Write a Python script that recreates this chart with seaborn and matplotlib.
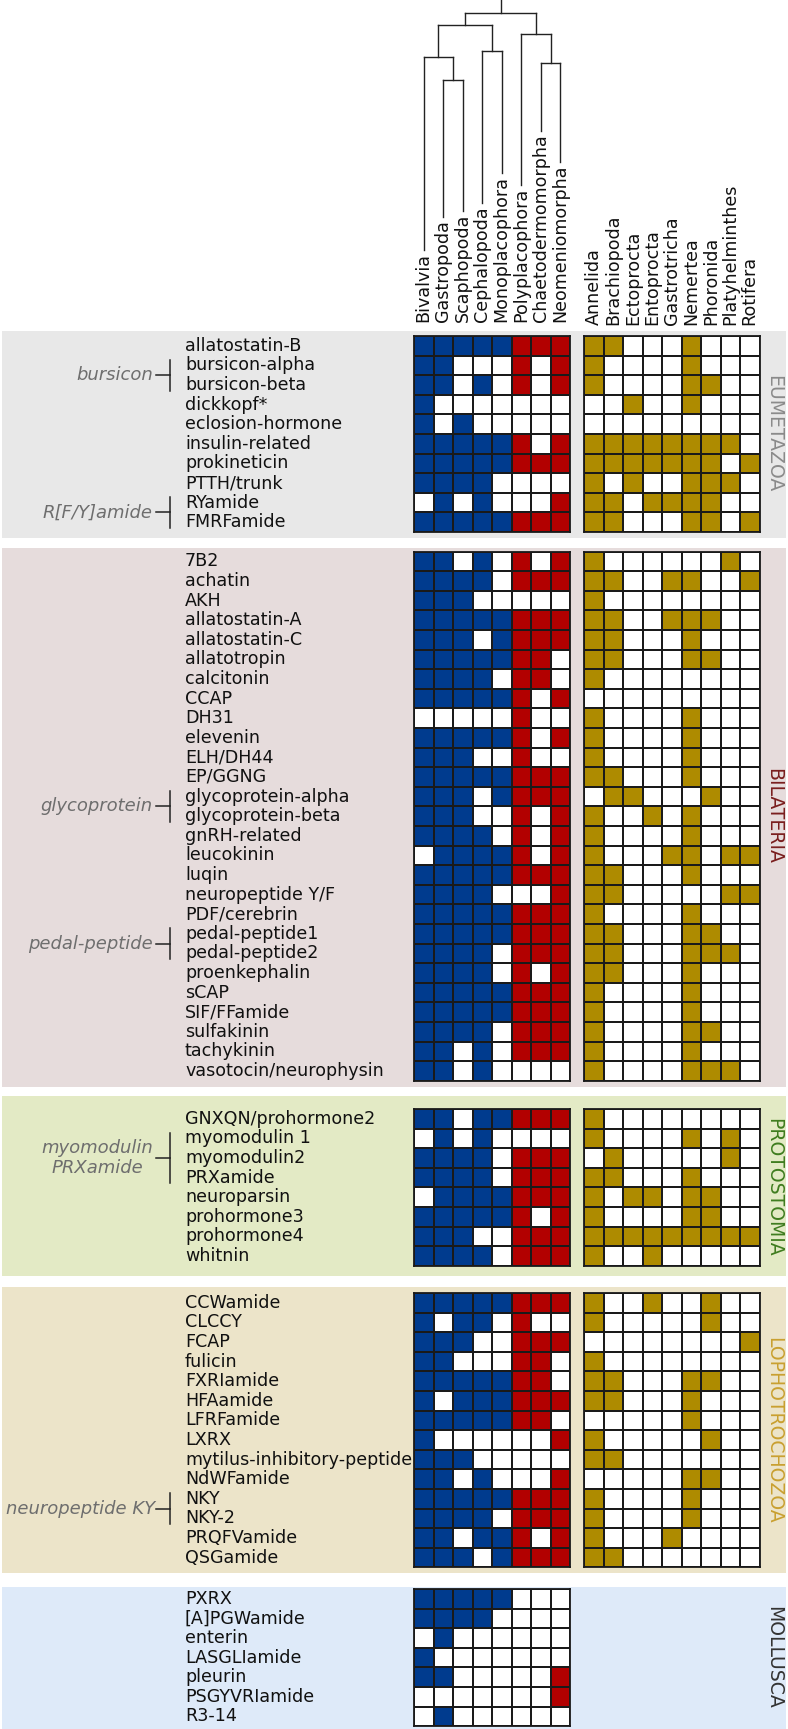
import numpy as np
import pandas as pd
import matplotlib
matplotlib.use("Agg")
import matplotlib.pyplot as plt
import seaborn as sns
from matplotlib.colors import ListedColormap
from matplotlib.patches import Rectangle

plt.rcParams["font.family"] = ["DejaVu Sans"]

# ---- data -------------------------------------------------------------
mollusc_taxa = ["Bivalvia", "Gastropoda", "Scaphopoda", "Cephalopoda", "Monoplacophora",
                "Polyplacophora", "Chaetodermomorpha", "Neomeniomorpha"]
other_taxa = ["Annelida", "Brachiopoda", "Ectoprocta", "Entoprocta", "Gastrotricha",
              "Nemertea", "Phoronida", "Platyhelminthes", "Rotifera"]
mollusc_colour_code = [1, 1, 1, 1, 1, 2, 2, 2]   # conchifera blue, aculifera red
other_colour_code = [3] * 9

# tree over the mollusc classes: (child, child, depth of the join below the top)
tree_joins = [(1, 2, 80), (0, 8, 57), (3, 4, 51), (6, 7, 63),
              (9, 10, 25), (5, 11, 34), (12, 13, 13)]

eumetazoa_peptides = ["allatostatin-B", "bursicon-alpha", "bursicon-beta", "dickkopf*",
                      "eclosion-hormone", "insulin-related", "prokineticin", "PTTH/trunk",
                      "RYamide", "FMRFamide"]
eumetazoa_mollusca = ["11111111", "11000101", "11010101", "10000000", "10100000",
                      "11111101", "11111111", "11110000", "01010001", "11111111"]
eumetazoa_other = ["110001000", "100001000", "100001100", "001001000", "000000000",
                   "111111110", "111111101", "101001110", "110111100", "110001101"]

bilateria_peptides = ["7B2", "achatin", "AKH", "allatostatin-A", "allatostatin-C",
                      "allatotropin", "calcitonin", "CCAP", "DH31", "elevenin", "ELH/DH44",
                      "EP/GGNG", "glycoprotein-alpha", "glycoprotein-beta", "gnRH-related",
                      "leucokinin", "luqin", "neuropeptide Y/F", "PDF/cerebrin",
                      "pedal-peptide1", "pedal-peptide2", "proenkephalin", "sCAP",
                      "SIF/FFamide", "sulfakinin", "tachykinin", "vasotocin/neurophysin"]
bilateria_mollusca = ["11010101", "11110111", "11100000", "11111111", "11101111",
                      "11111110", "11110110", "11111101", "00000100", "11111101",
                      "11100100", "11111111", "11101111", "11100101", "11110101",
                      "01111101", "11111111", "11110001", "11111111", "11111111",
                      "11110111", "11110101", "11111111", "11111111", "11110111",
                      "11010111", "11010000"]
bilateria_other = ["100000010", "110011001", "100000000", "110011100", "110001000",
                   "110001100", "100000000", "000000000", "100001000", "100001000",
                   "100001000", "110001000", "011000100", "100101000", "100001000",
                   "100011011", "110001000", "110000011", "100001000", "110001100",
                   "110001110", "110001000", "100001000", "100001000", "100001100",
                   "100001000", "100001110"]

protostomia_peptides = ["GNXQN/prohormone2", "myomodulin 1", "myomodulin2", "PRXamide",
                        "neuroparsin", "prohormone3", "prohormone4", "whitnin"]
protostomia_mollusca = ["11011111", "01010000", "11110111", "11110111", "01111111",
                        "11111101", "11100111", "11110111"]
protostomia_other = ["100000000", "100001010", "010000010", "110001000", "101101100",
                     "100001100", "111111111", "100100000"]

lophotrochozoa_peptides = ["CCWamide", "CLCCY", "FCAP", "fulicin", "FXRIamide", "HFAamide",
                           "LFRFamide", "LXRX", "mytilus-inhibitory-peptide", "NdWFamide",
                           "NKY", "NKY-2", "PRQFVamide", "QSGamide"]
lophotrochozoa_mollusca = ["11111111", "10110100", "11100111", "11000110", "11111110",
                           "10111111", "11111110", "10000001", "11100000", "11010001",
                           "11111111", "11110111", "11011101", "11101111"]
lophotrochozoa_other = ["100100100", "100000100", "000000001", "100000000", "110001100",
                        "110001000", "000001000", "100000100", "110000000", "000001100",
                        "100001000", "100001000", "100010000", "110000000"]

mollusca_peptides = ["PXRX", "[A]PGWamide", "enterin", "LASGLIamide", "pleurin",
                     "PSGYVRIamide", "R3-14"]
mollusca_mollusca = ["11111000", "11110000", "01000000", "10000000", "11000001",
                     "00000001", "01000000"]

# family brackets: (family name, first member, last member)
families = [("bursicon", "bursicon-alpha", "bursicon-beta"),
            ("R[F/Y]amide", "RYamide", "FMRFamide"),
            ("glycoprotein", "glycoprotein-alpha", "glycoprotein-beta"),
            ("pedal-peptide", "pedal-peptide1", "pedal-peptide2"),
            ("myomodulin\nPRXamide", "myomodulin 1", "PRXamide"),
            ("neuropeptide KY", "NKY", "NKY-2")]

blocks = [("EUMETAZOA", eumetazoa_peptides, eumetazoa_mollusca, eumetazoa_other),
          ("BILATERIA", bilateria_peptides, bilateria_mollusca, bilateria_other),
          ("PROTOSTOMIA", protostomia_peptides, protostomia_mollusca, protostomia_other),
          ("LOPHOTROCHOZOA", lophotrochozoa_peptides, lophotrochozoa_mollusca, lophotrochozoa_other),
          ("MOLLUSCA", mollusca_peptides, mollusca_mollusca, None)]

# ---- layout / style ------------------------------------------------------
W, H = 788, 1729
cell_w, row_h = 19.5, 19.6
moll_left, other_left = 414, 584
block_tops = [336, 551.5, 1109, 1293, 1589]
band_spans = [(331, 538), (548, 1087), (1096, 1276), (1287, 1573), (1587, 1729)]
band_colours = ["#e8e8e8", "#e6dcdc", "#e3eac5", "#ece4c9", "#deeaf9"]
label_colours = ["#8a8a8a", "#7a1e1e", "#3f7d1f", "#c9a030", "#333333"]
cmap = ListedColormap(["white", "#003b8e", "#b20000", "#ae8b00"])
edge = "#1a1a1a"
fs = 12.6

fig = plt.figure(figsize=(W / 100, H / 100), dpi=100)
bg = fig.add_axes([0, 0, 1, 1])
bg.set_xlim(0, W)
bg.set_ylim(H, 0)
bg.axis("off")


def px_axes(left, top, width, height):
    return fig.add_axes([left / W, 1 - (top + height) / H, width / W, height / H])


def draw_matrix(left, top, rows, names, cols, codes):
    ax = px_axes(left, top, len(cols) * cell_w, len(rows) * row_h)
    df = pd.DataFrame([[int(c) * k for c, k in zip(r, codes)] for r in rows],
                      index=names, columns=cols)
    sns.heatmap(df, ax=ax, cmap=cmap, vmin=0, vmax=3, cbar=False,
                linewidths=1.3, linecolor=edge, xticklabels=False, yticklabels=False)
    for sp in ax.spines.values():
        sp.set_visible(True)
        sp.set_color(edge)
        sp.set_linewidth(1.3)
    return ax


row_y = {}
for (name, peps, moll, oth), top, (b0, b1), bcol, lcol in zip(
        blocks, block_tops, band_spans, band_colours, label_colours):
    bg.add_patch(Rectangle((2, b0), W - 4, b1 - b0, color=bcol, zorder=0, lw=0))
    draw_matrix(moll_left, top, moll, peps, mollusc_taxa, mollusc_colour_code)
    if oth is not None:
        draw_matrix(other_left, top, oth, peps, other_taxa, other_colour_code)
    for i, p in enumerate(peps):
        y = top + (i + 0.5) * row_h
        row_y[p] = y
        bg.text(185, y, p, ha="left", va="center", fontsize=fs, color="#111111")
    bg.text(774, top + len(peps) * row_h / 2, name, rotation=270, ha="center",
            va="center", fontsize=13.6, color=lcol)

# family brackets
renderer = fig.canvas.get_renderer()
for fam, first, last in families:
    y0, y1 = row_y[first] - row_h / 2 + 4, row_y[last] + row_h / 2 - 4
    ym = (y0 + y1) / 2
    bg.plot([170, 170], [y0, y1], color="#222222", lw=1.1)
    bg.plot([156, 170], [ym, ym], color="#222222", lw=1.1)
    t = bg.text(153, ym, fam, ha="right", va="center", multialignment="center",
                fontsize=13, style="italic", color="#6e6e6e")
    bb = t.get_window_extent(renderer)
    width = bb.width * W / fig.bbox.width
    if 153 - width < 6:
        t.set_x(6 + width)

# header: dendrogram and taxon names
tree_ax = px_axes(moll_left, 0, 8 * cell_w, 330)
tree_ax.set_xlim(0, 8)
tree_ax.set_ylim(330, 0)
tree_ax.axis("off")
oth_ax = px_axes(other_left, 0, 9 * cell_w, 330)
oth_ax.set_xlim(0, 9)
oth_ax.set_ylim(330, 0)
oth_ax.axis("off")

leaf_text = []
for i, taxon in enumerate(mollusc_taxa):
    leaf_text.append(tree_ax.text(i + 0.5, 322, taxon, rotation=90, ha="center",
                                  va="bottom", fontsize=fs, color="#111111"))
for i, taxon in enumerate(other_taxa):
    oth_ax.text(i + 0.5, 325, taxon, rotation=90, ha="center", va="bottom",
                fontsize=fs, color="#111111")

fig.canvas.draw()
inv = tree_ax.transData.inverted()
leaf_top = [inv.transform((0, t.get_window_extent().y1))[1] - 3 for t in leaf_text]

xpos = {i: i + 0.5 for i in range(8)}
ypos = {i: leaf_top[i] for i in range(8)}
node = 8
for a, b, d in tree_joins:
    tree_ax.plot([xpos[a], xpos[b]], [d, d], color="#222222", lw=1.0, clip_on=False)
    for c in (a, b):
        tree_ax.plot([xpos[c], xpos[c]], [d, ypos[c]], color="#222222", lw=1.0, clip_on=False)
    xpos[node] = (xpos[a] + xpos[b]) / 2
    ypos[node] = d
    node += 1
root = node - 1
tree_ax.plot([xpos[root], xpos[root]], [0, ypos[root]], color="#222222", lw=1.0, clip_on=False)

fig.savefig("out.png", dpi=100)
